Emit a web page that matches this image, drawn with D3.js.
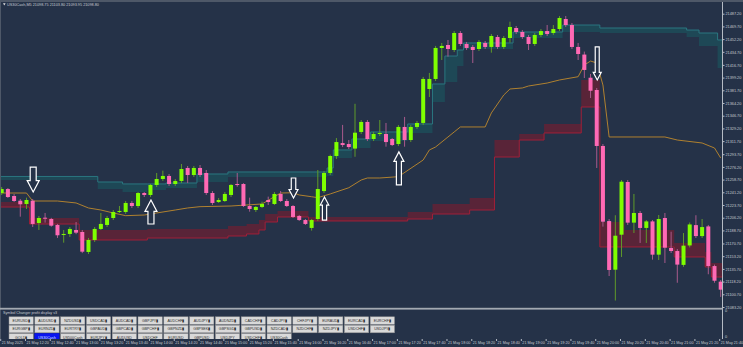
<!DOCTYPE html>
<html>
<head>
<meta charset="utf-8">
<script src="https://cdn.jsdelivr.net/npm/d3@7"></script>
<style>
html, body { margin:0; padding:0; background:#253248; overflow:hidden; }
svg text { font-family:"Liberation Sans", Arial, sans-serif; }
</style>
</head>
<body>
<script>
// ---- data (US30Cash M5) ----
var opens  = [21240.2,21245.7,21236.1,21229.6,21225.1,21229.6,21198.9,21206.2,21204.4,21196.2,
              21182.8,21183.8,21189.3,21186.5,21159.0,21175.5,21190.7,21196.2,21205.8,21214.1,
              21214.1,21226.5,21222.3,21240.2,21237.5,21251.3,21259.5,21263.7,21252.6,21256.8,
              21274.7,21265.0,21274.7,21267.8,21240.2,21227.8,21229.2,21237.5,21252.6,21252.6,
              21222.3,21216.8,21221.0,21230.6,21225.1,21238.9,21229.2,21222.3,21208.6,21203.0,
              21192.1,21204.4,21242.9,21267.8,21291.2,21309.0,21307.7,21301.4,21324.3,21338.1,
              21314.6,21321.5,21321.5,21314.6,21307.7,21331.2,21313.2,21331.2,21336.7,21383.5,
              21397.3,21440.0,21444.1,21437.2,21460.6,21445.5,21441.4,21438.6,21446.9,21441.4,
              21455.1,21441.4,21453.7,21467.5,21462.0,21455.1,21445.5,21457.9,21463.3,21460.6,
              21466.1,21479.9,21471.6,21441.4,21430.9,21399.0,21382.1,21305.0,21201.6,21134.6,
              21182.8,21255.4,21199.4,21212.7,21192.1,21201.1,21155.3,21205.8,21164.5,21160.3,
              21141.2,21168.0,21196.0,21180.9,21194.2,21139.6,21118.1];
var highs  = [21248.5,21247.1,21238.9,21231.9,21233.8,21232.0,21208.6,21212.7,21206.0,21197.6,
              21189.3,21193.4,21200.3,21189.3,21178.3,21193.4,21212.7,21208.6,21216.8,21222.3,
              21229.2,21229.2,21241.6,21241.6,21252.6,21267.8,21271.0,21266.4,21259.5,21280.2,
              21277.4,21277.4,21278.8,21271.9,21242.9,21233.3,21241.6,21252.6,21267.8,21253.9,
              21233.8,21222.3,21228.3,21235.2,21241.6,21243.0,21231.9,21223.7,21210.0,21204.4,
              21204.4,21271.9,21270.5,21293.0,21315.9,21334.0,21313.2,21363.1,21340.8,21340.8,
              21324.3,21340.8,21336.7,21316.0,21333.9,21345.0,21333.9,21339.5,21400.1,21405.6,
              21442.8,21446.9,21451.0,21463.3,21463.3,21448.3,21444.1,21451.0,21449.6,21459.2,
              21457.9,21456.5,21476.2,21470.3,21464.7,21457.9,21460.6,21466.1,21471.6,21471.6,
              21484.0,21484.0,21474.4,21446.9,21435.0,21404.2,21384.9,21307.7,21204.4,21209.6,
              21258.1,21258.1,21238.9,21215.5,21203.0,21203.0,21209.9,21212.7,21186.9,21163.1,
              21185.1,21199.6,21209.6,21204.4,21196.2,21141.6,21120.4];
var lows   = [21237.5,21233.3,21227.8,21207.6,21218.2,21193.4,21189.3,21199.4,21193.8,21178.3,
              21171.8,21179.7,21183.5,21157.4,21156.2,21172.8,21189.3,21193.4,21203.0,21212.7,
              21211.4,21219.5,21219.5,21234.7,21234.7,21248.5,21256.8,21249.9,21249.9,21254.0,
              21253.9,21262.3,21262.3,21237.5,21223.7,21226.5,21227.8,21234.7,21248.9,21220.9,
              21214.5,21214.1,21219.5,21223.7,21223.7,21227.8,21220.9,21205.8,21201.7,21196.2,
              21188.4,21201.7,21240.2,21265.0,21287.1,21303.5,21300.8,21290.1,21321.5,21311.8,
              21311.8,21318.8,21304.0,21304.9,21304.9,21304.0,21310.4,21328.4,21333.9,21372.5,
              21394.5,21423.4,21428.0,21434.5,21442.8,21437.2,21419.3,21435.8,21438.6,21433.5,
              21438.6,21438.6,21447.3,21459.2,21452.4,21437.2,21442.8,21455.1,21456.5,21458.0,
              21463.3,21469.0,21438.6,21423.4,21398.6,21371.1,21274.7,21193.9,21125.9,21092.1,
              21152.1,21196.2,21185.1,21171.4,21171.4,21148.4,21147.9,21143.8,21157.6,21116.6,
              21138.5,21165.2,21178.2,21178.2,21128.3,21116.6,21097.1];
var closes = [21245.7,21234.7,21229.2,21224.7,21230.6,21197.6,21205.8,21204.9,21195.2,21182.0,
              21183.8,21190.7,21185.6,21159.4,21175.5,21190.7,21197.6,21205.8,21214.1,21215.5,
              21226.5,21222.3,21240.2,21237.5,21251.3,21259.5,21263.7,21252.6,21256.8,21273.3,
              21265.0,21274.7,21265.0,21240.2,21226.5,21230.6,21238.9,21251.3,21251.3,21222.3,
              21218.2,21221.0,21225.1,21227.8,21238.9,21229.2,21222.3,21207.2,21203.0,21197.6,
              21203.0,21245.7,21267.8,21291.2,21310.4,21306.3,21303.5,21323.3,21338.1,21314.6,
              21321.5,21322.9,21310.4,21306.3,21331.2,21313.2,21331.2,21336.7,21397.3,21397.3,
              21440.0,21442.8,21438.6,21460.6,21445.5,21440.0,21437.2,21448.3,21441.4,21456.5,
              21441.4,21453.7,21468.9,21462.0,21455.1,21445.5,21457.9,21463.3,21459.2,21466.1,
              21481.3,21471.6,21441.4,21431.7,21409.7,21381.1,21305.0,21200.7,21134.2,21181.4,
              21255.8,21199.4,21212.7,21192.1,21201.1,21155.3,21204.4,21164.9,21160.3,21141.6,
              21167.7,21196.9,21180.9,21193.3,21139.6,21119.4,21107.1];

// upper (teal) cloud: [bar, top, bottom], steps
var tealSteps = [[0,21263.0,21258.1],[16,21255.4,21245.8],[20,21252.7,21241.6],[24,21252.7,21244.4],
                 [27,21254.0,21247.1],[32,21266.4,21255.4],[37,21269.2,21262.3],[53,21274.7,21263.7],
                 [54,21299.5,21288.5],[57,21314.6,21302.2],[60,21324.3,21311.8],[66,21335.3,21322.9],
                 [70,21390.4,21365.6],[72,21428.9,21393.1],[74,21437.2,21415.2],[75,21446.9,21438.6],
                 [83,21462.0,21453.7],[91,21471.6,21462.0],[97,21467.5,21460.6],[111,21464.7,21455.1],
                 [113,21460.6,21442.7],[116,21451.0,21412.4]];
// lower (red) cloud: [bar, top, bottom], steps
var redSteps = [[0,21227.8,21220.9],[5,21205.8,21197.5],[13,21189.3,21175.5],[24,21190.6,21178.2],
                [37,21194.8,21181.0],[40,21197.5,21183.8],[42,21203.0,21189.3],[43,21211.3,21200.3],
                [45,21215.4,21207.2],[50,21207.2,21201.7],[66,21214.0,21204.4],[70,21225.1,21211.3],
                [76,21233.3,21216.8],[80,21313.2,21289.8],[84,21321.5,21313.2],[88,21335.3,21322.9],
                [94,21395.9,21358.7],[97,21200.3,21165.9],[101,21189.3,21165.9],[109,21171.4,21152.1],
                [114,21159.0,21138.3],[115,21143.8,21124.5]];
// orange middle line vertices: [bar, price]
var midLine = [[0,21240.2],[4,21240.2],[5,21229.2],[9,21229.2],[12,21226.5],[14,21219.6],[16,21216.8],
               [18,21212.7],[20,21209.0],[23,21209.9],[25,21212.7],[28,21216.8],[30,21219.6],[32,21221.4],
               [37,21222.3],[42,21225.1],[45,21240.2],[47,21240.6],[48,21237.5],[50,21235.1],[51,21233.8],
               [53,21238.9],[56,21247.5],[58,21258.1],[59,21260.9],[61,21260.9],[64,21262.7],[68,21285.7],
               [69,21299.5],[70,21303.6],[72,21317.4],[73,21324.3],[74,21331.2],[78,21331.2],[79,21350.5],
               [81,21375.2],[82,21383.5],[84,21384.9],[85,21387.6],[88,21391.7],[90,21395.9],[93,21400.4],
               [94,21416.5],[95,21422.0],[96,21419.3],[97,21389.0],[98,21317.4],[107,21317.4],[109,21313.2],
               [113,21309.1],[115,21302.2],[116,21288.4]];
// signal arrows
var arrowBars  = [5, 24, 47, 52, 64, 96];
var arrowDirs  = ["down", "up", "down", "up", "up", "down"];
var arrowTips  = [21241.6, 21230.6, 21233.3, 21234.7, 21296.9, 21395.9];
var arrowTails = [21276.0, 21197.5, 21260.9, 21203.0, 21251.3, 21441.4];

var priceTicks = [21487.20,21469.70,21452.20,21434.70,21416.70,21399.20,21381.70,21364.20,21346.70,
                  21329.20,21311.70,21293.70,21276.20,21258.70,21241.20,21223.70,21206.20,21188.70,
                  21170.70,21153.20,21135.70,21118.20,21100.70,21083.20];
var timeLabels = ["21 May 2025","21 May 12:20","21 May 12:40","21 May 13:00","21 May 13:20","21 May 13:40",
                  "21 May 14:00","21 May 14:20","21 May 14:40","21 May 15:00","21 May 15:20","21 May 15:40",
                  "21 May 16:00","21 May 16:20","21 May 16:40","21 May 17:00","21 May 17:20","21 May 17:40",
                  "21 May 18:00","21 May 18:20","21 May 18:40","21 May 19:00","21 May 19:20","21 May 19:40",
                  "21 May 20:00","21 May 20:20","21 May 20:40","21 May 21:00","21 May 21:20","21 May 21:40"];
var symbolsRow1 = ["EURUSD▮","AUDUSD▮","NZDUSD▮","USDCAD▮","AUDCAD▮","GBPJPY▮","AUDCHF▮","AUDJPY▮",
                   "AUDNZD▮","CADCHF▮","CADJPY▮","CHFJPY▮","EURAUD▮","EURCAD▮","EURCHF▮"];
var symbolsRow2 = ["EURGBP▮","EURNZD▮","EURTRY▮","GBPAUD▮","GBPCAD▮","GBPCHF▮","GBPNZD▮","GBPSEK▮",
                   "GBPSGD▮","GBPUSD▮","NZDCAD▮","NZDCHF▮","NZDJPY▮","USDCHF▮","USDJPY▮"];
var symbolsRow3 = ["GOLD▮","US30Cash","US500Cash","EURJPY▮","AUDUSD","USDCHF","EURUSD","GBPUSD",
                   "USDJPY","USDCHF▮","US30Cash"];
var activeSymbol = "US30Cash";
var header = "US30Cash,M5  21098.75 21103.80 21093.95 21098.80";

// ---- layout ----
var width = 743, height = 347,
    axisX = 722.5, mainTop = 3, mainBottom = 307.5, subBottom = 339;
var bg = "#253248", txt = "#c6cad2";

var x = d3.scaleLinear().domain([0, 116]).range([1.7, 720.7]);
var y = d3.scaleLinear().domain([21083.2, 21487.2]).range([307, 13.7]);

var svg = d3.select("body").append("svg")
            .attr("width", width)
            .attr("height", height);

svg.append("rect").attr("width", width).attr("height", height).attr("fill", bg);
svg.append("rect").attr("width", width).attr("height", 2).attr("fill", "#4e5868");
svg.append("line").attr("x1", 0.5).attr("x2", 0.5).attr("y1", 2).attr("y2", subBottom)
   .attr("stroke", "#4e5868");

svg.append("clipPath").attr("id", "mainclip")
   .append("rect").attr("x", 1).attr("y", mainTop)
   .attr("width", axisX - 1).attr("height", mainBottom - mainTop);

var g = svg.append("g").attr("clip-path", "url(#mainclip)");

function withEnd(steps){
  var last = steps[steps.length - 1];
  return steps.concat([[117, last[1], last[2]]]);
}

// clouds
var band = d3.area().curve(d3.curveStepAfter)
             .x(function(d){ return x(d[0] - 0.5); })
             .y0(function(d){ return y(d[2]); })
             .y1(function(d){ return y(d[1]); });

g.append("path").datum(withEnd(tealSteps)).attr("d", band)
 .attr("fill", "#1d4a57").attr("opacity", 0.95);
g.append("path").datum(withEnd(tealSteps))
 .attr("d", d3.line().curve(d3.curveStepAfter)
              .x(function(d){ return x(d[0] - 0.5); })
              .y(function(d){ return y(d[1]); }))
 .attr("fill", "none").attr("stroke", "#2a7780").attr("stroke-width", 1);

g.append("path").datum(withEnd(redSteps)).attr("d", band)
 .attr("fill", "#5c2438").attr("opacity", 0.95);
g.append("path").datum(withEnd(redSteps))
 .attr("d", d3.line().curve(d3.curveStepAfter)
              .x(function(d){ return x(d[0] - 0.5); })
              .y(function(d){ return y(d[2]); }))
 .attr("fill", "none").attr("stroke", "#a11f38").attr("stroke-width", 1);

// middle line
g.append("path").datum(midLine)
 .attr("d", d3.line().x(function(d){ return x(d[0]); }).y(function(d){ return y(d[1]); }))
 .attr("fill", "none").attr("stroke", "#c08a2c").attr("stroke-width", 0.9);

// candles
var bars = d3.range(opens.length).map(function(i){
  return {i:i, o:opens[i], h:highs[i], l:lows[i], c:closes[i]};
});
var up = "#7fff00", down = "#ff69b4";

var cg = g.selectAll(".candle").data(bars).enter().append("g").attr("class", "candle");
cg.append("line")
  .attr("x1", function(d){ return x(d.i); }).attr("x2", function(d){ return x(d.i); })
  .attr("y1", function(d){ return y(d.h); }).attr("y2", function(d){ return y(d.l); })
  .attr("stroke", function(d){ return d.c >= d.o ? "#5f9a2a" : "#a85a8c"; })
  .attr("stroke-width", 1);
cg.append("rect")
  .attr("x", function(d){ return x(d.i) - 2; })
  .attr("width", 4)
  .attr("y", function(d){ return y(Math.max(d.o, d.c)); })
  .attr("height", function(d){ return Math.max(1, Math.abs(y(d.o) - y(d.c))); })
  .attr("fill", function(d){ return d.c >= d.o ? up : down; });

// arrows
var arrowHead = [12, 12, 9, 8.5, 10, 8];
function arrowPath(cx, tip, tail, dir, hw){
  var sw = hw * 0.5, hl = hw * 0.95, s = dir === "down" ? -1 : 1;
  var neck = tip + s * hl;
  return "M" + (cx - sw/2) + "," + tail + "L" + (cx + sw/2) + "," + tail +
         "L" + (cx + sw/2) + "," + neck + "L" + (cx + hw/2) + "," + neck +
         "L" + cx + "," + tip + "L" + (cx - hw/2) + "," + neck +
         "L" + (cx - sw/2) + "," + neck + "Z";
}
g.selectAll(".arrow").data(arrowBars).enter().append("path")
 .attr("d", function(b, k){
   return arrowPath(x(b) + 0.5, y(arrowTips[k]), y(arrowTails[k]), arrowDirs[k], arrowHead[k]);
 })
 .attr("fill", bg).attr("stroke", "#ffffff").attr("stroke-width", 1.2)
 .attr("stroke-linejoin", "miter");

// header
svg.append("path").attr("d", "M3,3.2L5.6,3.2L4.3,5.4Z").attr("fill", "#e0e0e0");
svg.append("text").attr("x", 7).attr("y", 6).text(header)
   .attr("font-size", 3.8).attr("fill", txt);

// price axis
svg.append("line").attr("x1", axisX).attr("x2", axisX).attr("y1", 2).attr("y2", subBottom)
   .attr("stroke", "#b5bbc4").attr("stroke-width", 1);
var yAxis = svg.append("g").attr("transform", "translate(" + axisX + ",0)")
   .call(d3.axisRight(y).tickValues(priceTicks).tickFormat(d3.format(".2f")).tickSize(2).tickPadding(1));
yAxis.select(".domain").remove();
yAxis.selectAll("line").attr("stroke", "#b5bbc4");
yAxis.selectAll("text").attr("font-size", 3.8).attr("fill", txt)
     .attr("font-family", "Liberation Sans, Arial, sans-serif");

// separator + sub window
svg.append("rect").attr("x", 0).attr("y", 307.8).attr("width", axisX).attr("height", 1.8)
   .attr("fill", "#a3a9b1");
svg.append("text").attr("x", 725).attr("y", 312).text("0").attr("font-size", 3.8).attr("fill", txt);
svg.append("text").attr("x", 725).attr("y", 338).text("0").attr("font-size", 3.8).attr("fill", txt);
svg.append("text").attr("x", 3).attr("y", 313.6).text("Symbol Changer profit display v3")
   .attr("font-size", 3.7).attr("fill", txt);

var btnX = d3.scaleLinear().domain([0, 1]).range([9, 34.8]);
var rows = [symbolsRow1, symbolsRow2, symbolsRow3], rowTop = [316.8, 325.2, 333.5];
rows.forEach(function(row, r){
  var bg2 = svg.selectAll(".b" + r).data(row).enter().append("g")
     .attr("transform", function(d, k){ return "translate(" + btnX(k) + "," + rowTop[r] + ")"; });
  bg2.append("rect").attr("width", 24.3).attr("height", 7.6)
     .attr("fill", function(d, k){ return r === 2 && k === 1 ? "#0a14f0" : "#d9d9d9"; })
     .attr("stroke", function(d, k){ return r === 2 && k === 1 ? "#0a14f0" : "#8f8f8f"; })
     .attr("stroke-width", 0.5);
  bg2.append("text").attr("x", 12.15).attr("y", 5.2).attr("text-anchor", "middle")
     .attr("font-size", 3.6)
     .attr("fill", function(d, k){ return r === 2 && k === 1 ? "#dfe3ff" : "#2b2b2b"; })
     .text(function(d){ return d; });
});

// time axis
svg.append("rect").attr("x", 0).attr("y", subBottom).attr("width", width).attr("height", height - subBottom)
   .attr("fill", bg);
var xAxis = svg.append("g").attr("transform", "translate(0," + subBottom + ")")
   .call(d3.axisBottom(x).tickValues(d3.range(0, 117, 4))
           .tickFormat(function(d, i){ return timeLabels[i]; }).tickSize(2).tickPadding(1));
xAxis.select(".domain").remove();
xAxis.selectAll(".tick line").attr("stroke", "#b5bbc4").attr("transform", "translate(-1.5,0)");
xAxis.selectAll(".tick text").attr("text-anchor", "start").attr("x", -0.5).attr("y", 2.2)
     .attr("font-size", 3.7).attr("fill", txt)
     .attr("font-family", "Liberation Sans, Arial, sans-serif");
</script>
</body>
</html>
